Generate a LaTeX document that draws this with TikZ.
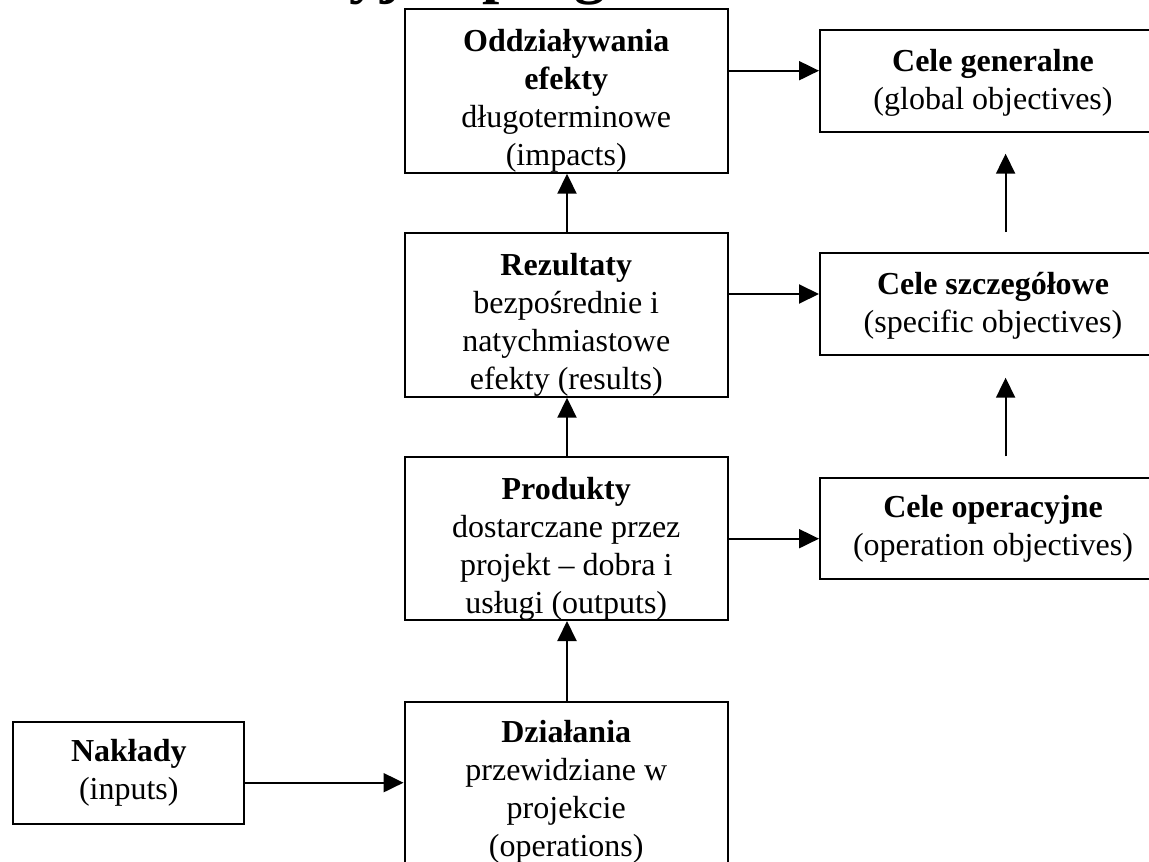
\documentclass[tikz,border=0pt]{standalone}
\usepackage{fontspec}
\setmainfont{Liberation Serif}
\usetikzlibrary{arrows.meta}
\begin{document}
\begin{tikzpicture}[x=1pt,y=-1pt,
 box/.style={draw, line width=2pt, rectangle, inner sep=0pt},
 txt/.style={anchor=north, align=center, inner sep=0pt, font=\fontsize{32}{38}\selectfont},
 arr/.style={line width=2pt, -{Triangle[length=20pt,width=19pt]}}]
\useasboundingbox (0,0) rectangle (1149,862);
% clipped title
\node[anchor=base west, inner sep=0pt, font=\fontsize{62}{70}\selectfont\bfseries] (title) at (88,-8.2) {interwencyjna programu};
% boxes
\node[box, minimum width=323.5pt, minimum height=163.4pt] (odd) at (566.25,91) {};
\node[box, minimum width=323.5pt, minimum height=163.4pt] (rez) at (566.25,315) {};
\node[box, minimum width=323.5pt, minimum height=162.7pt] (prod) at (566.25,538.65) {};
\node[box, minimum width=323.5pt, minimum height=198.3pt] (dzial) at (566.25,800.85) {};
\node[box, minimum width=231pt, minimum height=102.3pt] (nak) at (128.8,772.85) {};
\node[box, minimum width=346pt, minimum height=102pt] (gen) at (993,81) {};
\node[box, minimum width=346pt, minimum height=102pt] (szcz) at (993,304.3) {};
\node[box, minimum width=346pt, minimum height=101.6pt] (oper) at (993,528.5) {};
% texts
\node[txt] (oddt) at ([yshift=-15.9pt]odd.north) {\strut\textbf{Oddziaływania}\\\textbf{efekty}\\długoterminowe\\(impacts)};
\node[txt] (rezt) at ([yshift=-15.9pt]rez.north) {\strut\textbf{Rezultaty}\\bezpośrednie i\\natychmiastowe\\efekty (results)};
\node[txt] (prodt) at ([yshift=-15.9pt]prod.north) {\strut\textbf{Produkty}\\dostarczane przez\\projekt – dobra i\\usługi (outputs)};
\node[txt] (dzialt) at ([yshift=-15.2pt]dzial.north) {\strut\textbf{Działania}\\przewidziane w\\projekcie\\(operations)};
\node[txt] (nakt) at ([yshift=-14.4pt]nak.north) {\strut\textbf{Nakłady}\\(inputs)};
\node[txt] (gent) at ([yshift=-15.4pt]gen.north) {\strut\textbf{Cele generalne}\\(global objectives)};
\node[txt] (szczt) at ([yshift=-15.4pt]szcz.north) {\strut\textbf{Cele szczegółowe}\\(specific objectives)};
\node[txt] (opert) at ([yshift=-14.2pt]oper.north) {\strut\textbf{Cele operacyjne}\\(operation objectives)};
% horizontal arrows
\draw[arr] (odd.east |- 0,70.7) -- (gen.west |- 0,70.7);
\draw[arr] (rez.east |- 0,294) -- (szcz.west |- 0,294);
\draw[arr] (prod.east |- 0,538.7) -- (oper.west |- 0,538.7);
\draw[arr] (nak.east |- 0,782.7) -- (dzial.west |- 0,782.7);
% vertical arrows, left column
\draw[arr] (rez.north -| 567,0) -- (odd.south -| 567,0);
\draw[arr] (prod.north -| 567,0) -- (rez.south -| 567,0);
\draw[arr] (dzial.north -| 567,0) -- (prod.south -| 567,0);
% vertical arrows, right column
\draw[arr, shorten <=20.3pt, shorten >=20.7pt] (szcz.north -| 1005.6,0) -- (gen.south -| 1005.6,0);
\draw[arr, shorten <=20.4pt, shorten >=21.4pt] (oper.north -| 1005.6,0) -- (szcz.south -| 1005.6,0);
\end{tikzpicture}
\end{document}
